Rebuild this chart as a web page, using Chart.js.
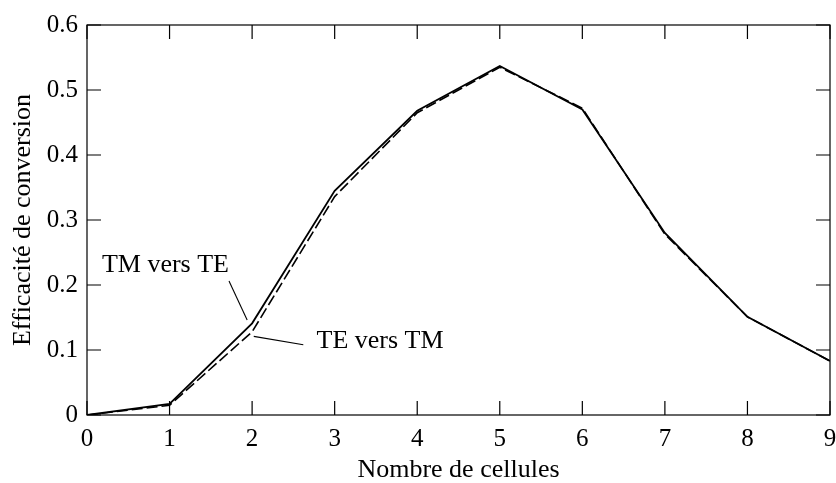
<!DOCTYPE html>
<html>
<head>
<meta charset="utf-8">
<script src="https://cdn.jsdelivr.net/npm/chart.js@4.4.1/dist/chart.umd.min.js"></script>
<style>
    html, body { margin: 0; padding: 0; background: #fff; }
    #wrap { width: 836px; height: 483px; }
</style>
</head>
<body>
<div id="wrap"><canvas id="myChart" width="836" height="483"></canvas></div>
<script>
const cellules = [0, 1, 2, 3, 4, 5, 6, 7, 8, 9];
const tmVersTe = [0, 0.017, 0.141, 0.345, 0.468, 0.537, 0.470, 0.280, 0.151, 0.083];
const teVersTm = [0, 0.015, 0.128, 0.336, 0.465, 0.535, 0.472, 0.278, 0.151, 0.083];

// labels placed in data coordinates: text position, leader start, leader end
const notes = [
    { text: "TM vers TE", at: [0.95, 0.230], from: [1.72, 0.206], to: [1.94, 0.146] },
    { text: "TE vers TM", at: [3.55, 0.114], from: [2.02, 0.121], to: [2.62, 0.108] },
];

const serif = "'Liberation Serif', serif";
Chart.defaults.font.family = serif;
Chart.defaults.color = "#000";

function toPoints(ys) {
    return cellules.map((x, i) => ({ x, y: ys[i] }));
}

// frame, ticks pointing inward, leader labels
const framePlugin = {
    id: "frame",
    afterDraw(chart) {
        const c = chart.ctx;
        const a = chart.chartArea;
        const xs = chart.scales.x;
        const ys = chart.scales.y;
        const len = 14;
        c.save();
        c.strokeStyle = "#000";
        c.lineWidth = 1.2;
        c.strokeRect(a.left, a.top, a.right - a.left, a.bottom - a.top);
        c.beginPath();
        xs.ticks.forEach((t) => {
            const px = xs.getPixelForValue(t.value);
            c.moveTo(px, a.bottom);
            c.lineTo(px, a.bottom - len);
            c.moveTo(px, a.top);
            c.lineTo(px, a.top + len);
        });
        ys.ticks.forEach((t) => {
            const py = ys.getPixelForValue(t.value);
            c.moveTo(a.left, py);
            c.lineTo(a.left + len, py);
            c.moveTo(a.right, py);
            c.lineTo(a.right - len, py);
        });
        c.stroke();

        c.font = "26px " + serif;
        c.fillStyle = "#000";
        c.textAlign = "center";
        c.textBaseline = "middle";
        c.lineWidth = 1.1;
        notes.forEach((n) => {
            c.fillText(n.text, xs.getPixelForValue(n.at[0]), ys.getPixelForValue(n.at[1]));
            c.beginPath();
            c.moveTo(xs.getPixelForValue(n.from[0]), ys.getPixelForValue(n.from[1]));
            c.lineTo(xs.getPixelForValue(n.to[0]), ys.getPixelForValue(n.to[1]));
            c.stroke();
        });
        c.restore();
    },
};

const ctx = document.getElementById("myChart");
const chart = new Chart(ctx, {
    type: "line",
    data: {
        datasets: [
            {
                label: "TM vers TE",
                data: toPoints(tmVersTe),
                borderColor: "#000",
                borderWidth: 1.8,
                fill: false,
                tension: 0,
                pointRadius: 0,
            },
            {
                label: "TE vers TM",
                data: toPoints(teVersTm),
                borderColor: "#000",
                borderWidth: 1.6,
                borderDash: [11, 4],
                fill: false,
                tension: 0,
                pointRadius: 0,
            },
        ],
    },
    options: {
        responsive: false,
        animation: false,
        events: [],
        layout: {
            padding: { top: 25, right: 6, left: 0, bottom: 0 },
        },
        plugins: {
            legend: { display: false },
            tooltip: { enabled: false },
        },
        scales: {
            x: {
                type: "linear",
                min: 0,
                max: 9,
                grid: { display: false, drawTicks: false },
                border: { display: false },
                ticks: { stepSize: 1, padding: 9, font: { size: 25 }, maxRotation: 0 },
                title: {
                    display: true,
                    text: "Nombre de cellules",
                    font: { size: 26, lineHeight: 0.95 },
                    padding: { top: 2, bottom: 0 },
                },
                afterFit(scale) {
                    scale.height = 68;
                    scale.paddingLeft = 0;
                    scale.paddingRight = 0;
                },
            },
            y: {
                type: "linear",
                min: 0,
                max: 0.6,
                grid: { display: false, drawTicks: false },
                border: { display: false },
                ticks: { stepSize: 0.1, padding: 9, font: { size: 25 } },
                title: {
                    display: true,
                    text: "Efficacité de conversion",
                    font: { size: 26 },
                    padding: { top: 8, bottom: 4 },
                },
                afterFit(scale) {
                    scale.width = 87;
                    scale.paddingTop = 0;
                    scale.paddingBottom = 0;
                },
            },
        },
    },
    plugins: [framePlugin],
});
</script>
</body>
</html>
